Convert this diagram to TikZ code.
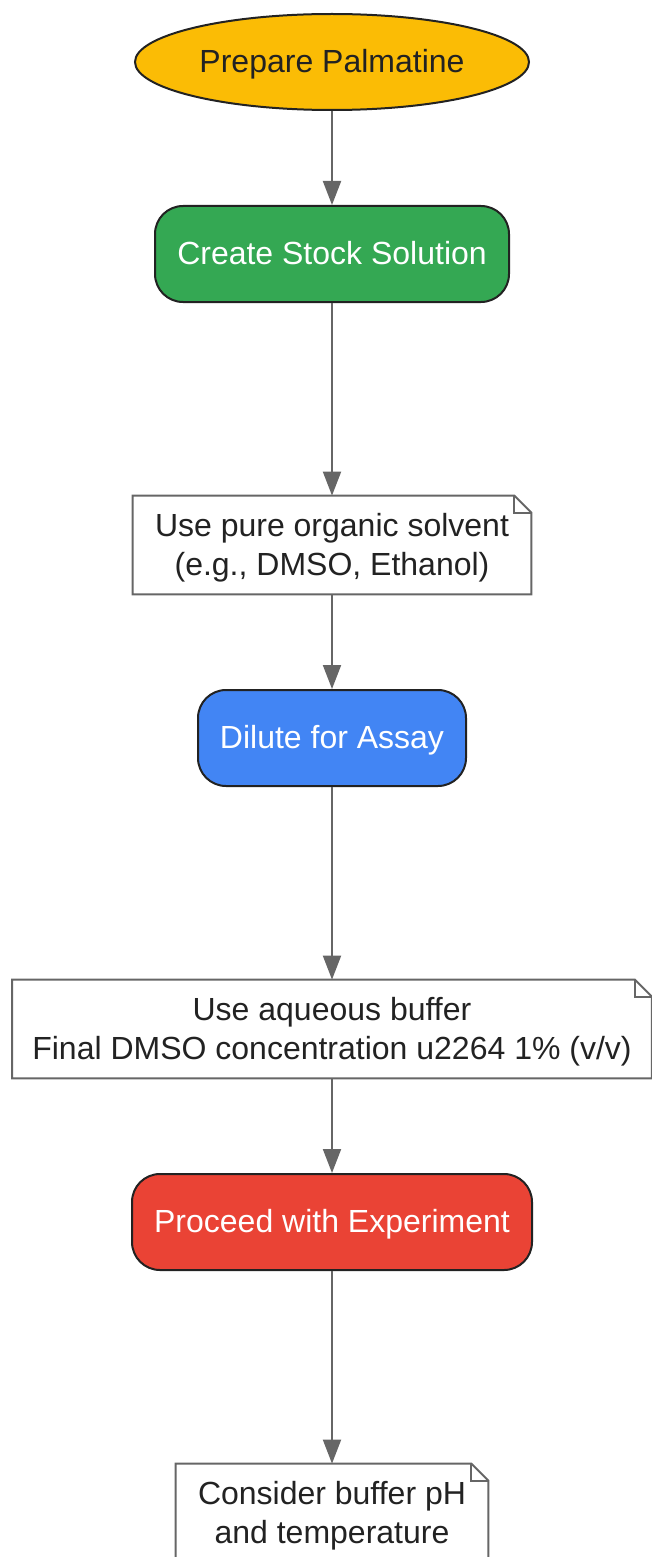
\documentclass[tikz,border=0pt]{standalone}
\usepackage{fontspec}
\setmainfont{Liberation Sans}
\usetikzlibrary{shapes.geometric, arrows.meta}

\definecolor{startyellow}{HTML}{FBBC05}
\definecolor{stockgreen}{HTML}{34A853}
\definecolor{diluteblue}{HTML}{4285F4}
\definecolor{proceedred}{HTML}{EA4335}
\definecolor{linegray}{HTML}{666666}
\definecolor{textdark}{HTML}{222222}

\begin{document}
\begin{tikzpicture}[x = 0.5pt, y = 0.5pt,
    every node/.style = {font = \fontsize{16}{19.2}\selectfont, align = center, inner sep = 0pt, text depth = 0.7pt},
    stepnode/.style = {draw = textdark, line width = 1pt, rounded corners = 14pt, minimum height = 48pt, text = white},
    notenode/.style = {minimum height = 49pt, text = textdark},
    flow/.style = {-{Triangle[width = 9pt, length = 12pt]}, draw = linegray, line width = 1pt}]

    \useasboundingbox (0, 0) rectangle (652, -1557);
    \clip (0, 0) rectangle (652, -1557);

% Nodes
    \node[ellipse, draw = textdark, line width = 1pt, fill = startyellow, text = textdark,
          minimum width = 197pt, minimum height = 48pt] (start) at (332, -62) {Prepare Palmatine};
    \node[stepnode, fill = stockgreen, minimum width = 177pt] (stock) at (332, -254) {Create Stock Solution};
    \node[notenode, minimum width = 199pt] (solvent) at (332, -545) {Use pure organic solvent\\(e.g., DMSO, Ethanol)};
    \node[stepnode, fill = diluteblue, minimum width = 134pt] (dilute) at (332, -738) {Dilute for Assay};
    \node[notenode, minimum width = 319.5pt] (buffer) at (332, -1029) {Use aqueous buffer\\Final DMSO concentration u2264 1\% (v/v)};
    \node[stepnode, fill = proceedred, minimum width = 200pt] (proceed) at (332, -1222) {Proceed with Experiment};
    \node[notenode, minimum width = 156pt] (consider) at (332, -1513) {Consider buffer pH\\and temperature};

% Note outlines
    \foreach \n in {solvent, buffer, consider} {
        \draw[linegray, line width = 1pt] (\n.north west) -- ([xshift = -8.5pt]\n.north east)
            -- ([yshift = -8.5pt]\n.north east) -- (\n.south east) -- (\n.south west) -- cycle;
        \draw[linegray, line width = 1pt] ([xshift = -8.5pt]\n.north east)
            -- ([xshift = -8.5pt, yshift = -8.5pt]\n.north east) -- ([yshift = -8.5pt]\n.north east);
    }

% Directions
    \draw[flow] (start) -- (stock);
    \draw[flow] (stock) -- (solvent);
    \draw[flow] (solvent) -- (dilute);
    \draw[flow] (dilute) -- (buffer);
    \draw[flow] (buffer) -- (proceed);
    \draw[flow] (proceed) -- (consider);

\end{tikzpicture}
\end{document}
